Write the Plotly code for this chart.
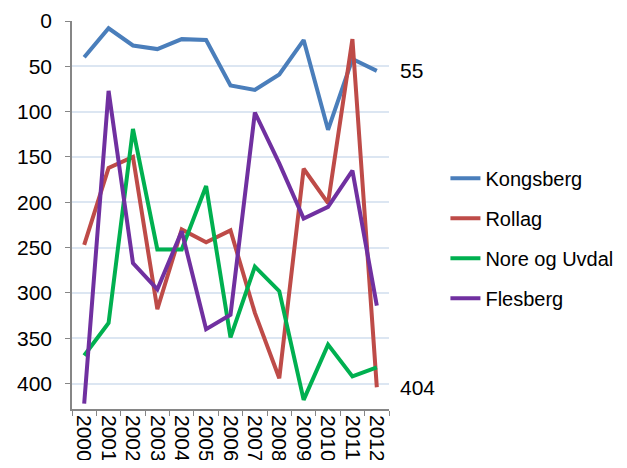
import plotly.graph_objs as go

years = [str(y) for y in range(2000, 2013)]

kongsberg = [40, 8, 27, 31, 20, 21, 71, 76, 59, 21, 120, 42, 55]
rollag = [247, 162, 150, 318, 230, 244, 231, 322, 394, 163, 201, 20, 404]
nore_og_uvdal = [369, 333, 119, 252, 252, 182, 349, 271, 298, 418, 357, 392, 382]
flesberg = [422, 77, 267, 296, 232, 340, 324, 101, 157, 218, 205, 165, 314]

series = [
    ("Kongsberg", kongsberg, "#4a7ebb"),
    ("Rollag", rollag, "#be4b48"),
    ("Nore og Uvdal", nore_og_uvdal, "#00b050"),
    ("Flesberg", flesberg, "#7030a0"),
]

# only these two series get an end label in the original
labelled = ["Kongsberg", "Rollag"]

font_family = "Liberation Sans, Arial, sans-serif"
font_size = 21

fig = go.Figure()
for i, (name, values, color) in enumerate(series):
    fig.add_trace(
        go.Scatter(
            x=years,
            y=values,
            name=name,
            mode="lines",
            line=dict(color=color, width=4),
            legendgroup=str(i),
        )
    )

annotations = []
for name, values, color in series:
    if name in labelled:
        annotations.append(
            dict(
                x=len(years) - 1,  # category index of the last year
                y=values[-1],
                text=str(values[-1]),
                showarrow=False,
                xanchor="left",
                yanchor="middle",
                xshift=21,
                font=dict(size=font_size, color="#000000", family=font_family),
            )
        )

# page body has an 8px margin, so the figure sits 8px right/down;
# keep it small enough that the page gets no scrollbars
fig.update_layout(
    width=611,
    height=452,
    margin=dict(l=64, r=230, t=13, b=51, autoexpand=False),
    paper_bgcolor="white",
    plot_bgcolor="white",
    font=dict(family=font_family, size=font_size, color="#000000"),
    showlegend=True,
    legend=dict(
        x=1.178,
        y=0.44,
        xanchor="left",
        yanchor="middle",
        traceorder="grouped",
        tracegroupgap=11,
        font=dict(size=20),
        bgcolor="rgba(0,0,0,0)",
    ),
    annotations=annotations,
)

fig.update_xaxes(
    type="category",
    range=[-0.5, len(years) - 0.5],
    tickmode="array",
    tickvals=years,
    ticktext=years,
    tickangle=90,
    showgrid=False,
    showline=True,
    linecolor="#868686",
    linewidth=1.5,
    ticks="outside",
    tickson="boundaries",
    ticklen=5,
    tickcolor="#868686",
    tickfont=dict(size=font_size),
    automargin=False,
)

fig.update_yaxes(
    range=[428, 0],
    tickvals=[0, 50, 100, 150, 200, 250, 300, 350, 400],
    showgrid=True,
    gridcolor="#dce6f2",
    gridwidth=1.5,
    zeroline=False,
    showline=True,
    linecolor="#868686",
    linewidth=1.5,
    ticks="outside",
    ticklen=5,
    tickcolor="#868686",
    tickfont=dict(size=font_size),
    ticklabelstandoff=9,
    automargin=False,
)

fig.write_html("out.html")
